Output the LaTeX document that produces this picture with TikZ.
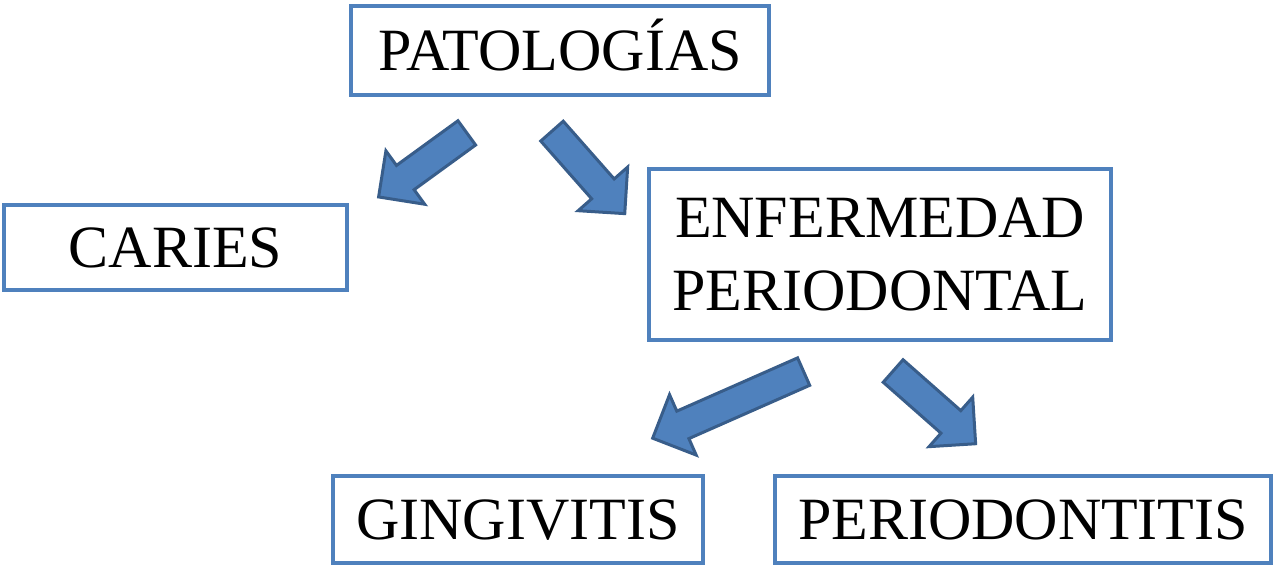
\documentclass[tikz,border=0pt]{standalone}
\usepackage{fontspec}
\setmainfont{Liberation Serif}
\usetikzlibrary{shapes.arrows}

\definecolor{boxline}{HTML}{4F81BD}
\definecolor{arrowfill}{HTML}{4F81BD}
\definecolor{arrowline}{HTML}{385D8A}

\begin{document}
\begin{tikzpicture}[x=1pt, y=-1pt, line join=miter,
    box/.style={draw=boxline, line width=4pt, fill=white, inner sep=0pt, font=\fontsize{60}{73}\selectfont, align=center},
    onerow/.style={box, text height=40pt, text depth=0pt},
    blockarrow/.style={single arrow, draw=arrowline, fill=arrowfill, line width=3pt, inner xsep=0pt, inner ysep=13.5pt, single arrow head extend=18pt, anchor=tail}]
    \path[use as bounding box] (0,0) rectangle (1276,567);
    % boxes
    \node[onerow, minimum width=418pt, minimum height=89pt] (patologias) at (560,50.5) {PATOLOGÍAS};
    \node[onerow, minimum width=343pt, minimum height=85pt] (caries) at (175.5,247.5) {CARIES};
    \node[box, minimum width=462pt, minimum height=171pt] (enfermedad) at (880,254.5) {ENFERMEDAD\\PERIODONTAL};
    \node[onerow, minimum width=370pt, minimum height=87pt] (gingivitis) at (518,519.5) {GINGIVITIS};
    \node[onerow, minimum width=496pt, minimum height=87pt] (periodontitis) at (1023,519.5) {PERIODONTITIS};
    % block arrows
    \coordinate (t1) at (468,132);
    \coordinate (t2) at (551,130);
    \coordinate (t3) at (805,371);
    \coordinate (t4) at (892,370);
    \node[blockarrow, minimum height=109pt, rotate=216] (a1) at (t1) {};
    \node[blockarrow, minimum height=110pt, rotate=-48.6] (a2) at (t2) {};
    \node[blockarrow, minimum height=165pt, rotate=203.8] (a3) at (t3) {};
    \node[blockarrow, minimum height=110pt, rotate=-41.4] (a4) at (t4) {};
\end{tikzpicture}
\end{document}
